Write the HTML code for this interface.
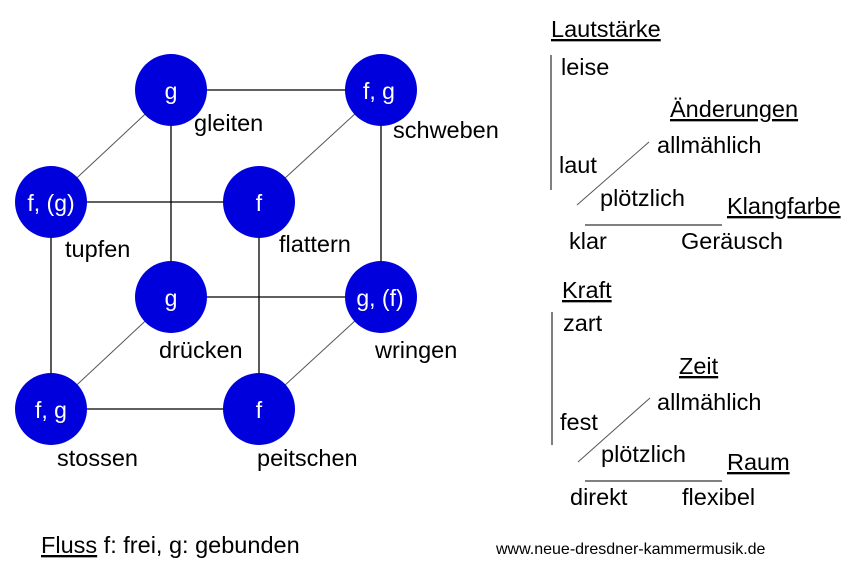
<!DOCTYPE html>
<html><head><meta charset="utf-8"><style>
html,body{margin:0;padding:0;background:#fff;}
svg{display:block;font-family:"Liberation Sans",Arial,sans-serif;}
</style></head><body>
<svg width="854" height="572" viewBox="0 0 854 572" xmlns="http://www.w3.org/2000/svg">
<g stroke="#000" stroke-width="1.3">
<line x1="171" y1="90" x2="381" y2="90"/>
<line x1="51" y1="202" x2="259" y2="202"/>
<line x1="171" y1="297" x2="381" y2="297"/>
<line x1="51" y1="409" x2="259" y2="409"/>
<line x1="171" y1="90" x2="171" y2="297"/>
<line x1="381" y1="90" x2="381" y2="297"/>
<line x1="51" y1="202" x2="51" y2="409"/>
<line x1="259" y1="202" x2="259" y2="409"/>
</g>
<g stroke="#555" stroke-width="1">
<line x1="171" y1="90" x2="51" y2="202"/>
<line x1="381" y1="90" x2="259" y2="202"/>
<line x1="171" y1="297" x2="51" y2="409"/>
<line x1="381" y1="297" x2="259" y2="409"/>
</g>
<g fill="#0000dd">
<circle cx="171" cy="90" r="36"/><circle cx="381" cy="90" r="36"/>
<circle cx="51" cy="202" r="36"/><circle cx="259" cy="202" r="36"/>
<circle cx="171" cy="297" r="36"/><circle cx="381" cy="297" r="36"/>
<circle cx="51" cy="409" r="36"/><circle cx="259" cy="409" r="36"/>
</g>
<g fill="#fff" font-size="23" text-anchor="middle">
<text x="171" y="99">g</text><text x="379" y="99">f, g</text>
<text x="51" y="211">f, (g)</text><text x="259" y="211">f</text>
<text x="171" y="306">g</text><text x="380" y="306">g, (f)</text>
<text x="51" y="418">f, g</text><text x="259" y="418">f</text>
</g>
<g fill="#000" font-size="23.5">
<text x="194" y="131">gleiten</text><text x="393" y="138">schweben</text>
<text x="65" y="257">tupfen</text><text x="279" y="252">flattern</text>
<text x="159" y="358">drücken</text><text x="375" y="358">wringen</text>
<text x="57" y="466">stossen</text><text x="257" y="466">peitschen</text>

<text x="551" y="37" text-decoration="underline">Lautstärke</text>
<text x="561" y="75">leise</text>
<text x="670" y="117" text-decoration="underline">Änderungen</text>
<text x="657" y="153">allmählich</text>
<text x="559" y="173">laut</text>
<text x="600" y="206">plötzlich</text>
<text x="727" y="214" text-decoration="underline">Klangfarbe</text>
<text x="569" y="249">klar</text>
<text x="681" y="249">Geräusch</text>

<text x="562" y="298" text-decoration="underline">Kraft</text>
<text x="563" y="331">zart</text>
<text x="679" y="374" text-decoration="underline">Zeit</text>
<text x="657" y="410">allmählich</text>
<text x="560" y="430">fest</text>
<text x="601" y="462">plötzlich</text>
<text x="727" y="470" text-decoration="underline">Raum</text>
<text x="570" y="505">direkt</text>
<text x="682" y="505">flexibel</text>

<text x="41" y="553"><tspan text-decoration="underline">Fluss</tspan> f: frei, g: gebunden</text>
<text x="496" y="554" font-size="16">www.neue-dresdner-kammermusik.de</text>
</g>
<g stroke="#000" stroke-width="1">
<line x1="551" y1="55" x2="551" y2="190"/>
<line x1="552" y1="312" x2="552" y2="445"/>
<line x1="585" y1="225" x2="722" y2="225"/>
<line x1="585" y1="481" x2="722" y2="481"/>
</g>
<g stroke="#555" stroke-width="1">
<line x1="577" y1="205" x2="649" y2="142"/>
<line x1="578" y1="462" x2="650" y2="398"/>
</g>
</svg>
</body></html>
